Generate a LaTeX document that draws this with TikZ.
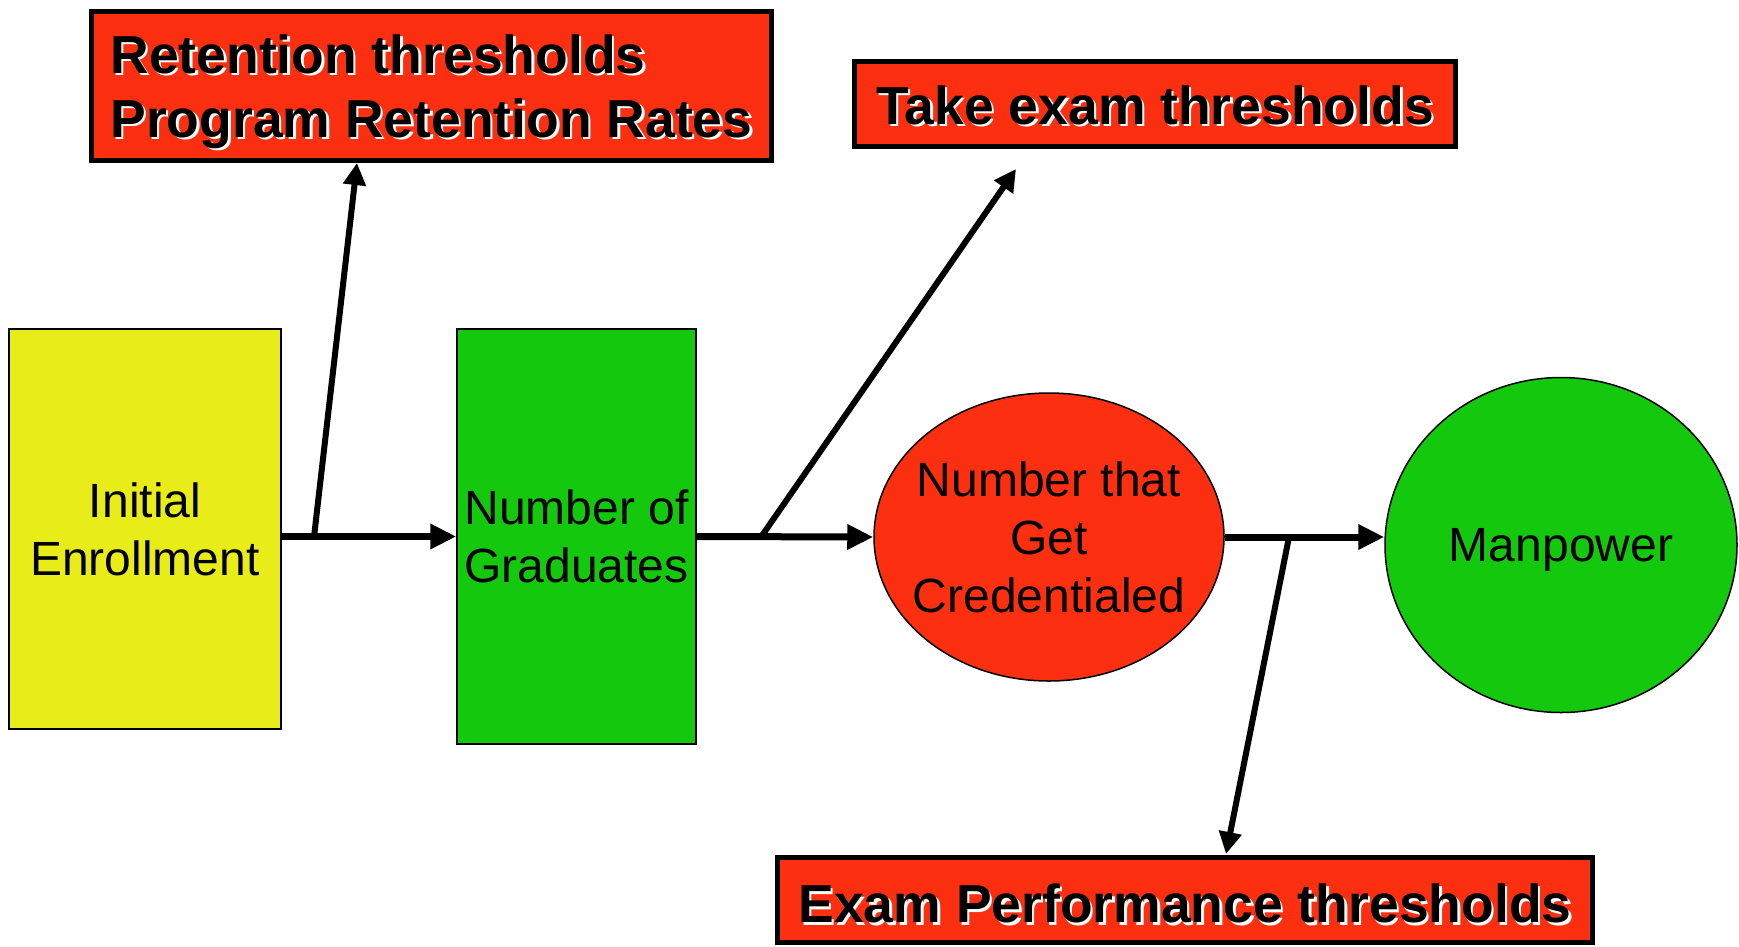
\documentclass[tikz,border=0pt]{standalone}
\usepackage{fontspec}
\setmainfont{Liberation Sans}
\usetikzlibrary{shapes.geometric,arrows.meta,calc}
\definecolor{cred}{RGB}{252,48,16}
\definecolor{cgreen}{RGB}{20,200,14}
\definecolor{cyellow}{RGB}{232,236,24}
\newcommand\shd[1]{\leavevmode\rlap{\kern2.5pt\raisebox{-2.5pt}{\textcolor{white}{#1}}}#1}
\begin{document}
\begin{tikzpicture}[x=1pt,y=-1pt,
  rbox/.style={draw=black,line width=5pt,fill=cred,rectangle,inner sep=0pt,
    font=\fontsize{53.5}{64}\selectfont\bfseries,align=left},
  sbox/.style={draw=black,line width=1.5pt,rectangle,inner sep=0pt,
    font=\fontsize{48}{58}\selectfont,align=center},
  ebox/.style={draw=black,line width=1.5pt,ellipse,inner xsep=-30pt,inner ysep=0pt,
    font=\fontsize{48}{58}\selectfont,align=center},
  flow/.style={line width=7pt,-{Triangle[length=26pt,width=24pt]}},
  branch/.style={line width=6pt,-{Triangle[length=22pt,width=22pt]}}]
\useasboundingbox (0,0) rectangle (1739,946);
\node[rbox,minimum width=680pt,minimum height=149pt] (ret) at (431.5,86)
  {\rule{0pt}{52pt}\shd{Retention thresholds}\\\shd{Program Retention Rates}};
\node[rbox,minimum width=601pt,minimum height=85pt] (take) at (1155,104)
  {\rule{0pt}{44pt}\shd{Take exam thresholds}};
\node[rbox,minimum width=815pt,minimum height=85pt] (perf) at (1185,900)
  {\rule{0pt}{48pt}\shd{Exam Performance thresholds}};
\node[sbox,fill=cyellow,minimum width=272pt,minimum height=400pt] (yel) at (145,529)
  {Initial\\Enrollment};
\node[sbox,fill=cgreen,minimum width=239pt,minimum height=415pt] (grn) at (576.5,536.5)
  {Number of\\Graduates};
\node[ebox,fill=cred,minimum width=350pt,minimum height=288pt] (crd) at (1049,537)
  {Number that\\Get\\Credentialed};
\node[ebox,fill=cgreen,minimum width=352pt,minimum height=335pt,text depth=0pt] (man) at (1561,545)
  {Manpower};
\coordinate (b1) at (314,537);
\coordinate (t1) at (357,163);
\coordinate (b2) at (761,537);
\coordinate (t2) at (1016,169);
\coordinate (b3) at (1289,537);
\coordinate (t3) at (1226,854);
\draw[flow] (yel.east |- grn.center) -- (grn.west);
\draw[flow] (grn.east) -- (crd.west);
\draw[flow] (crd.east) -- (crd.east -| man.west);
\draw[branch] (b1) -- (t1);
\draw[branch] (b2) -- (t2);
\draw[branch] (b3) -- (t3);
\end{tikzpicture}
\end{document}
